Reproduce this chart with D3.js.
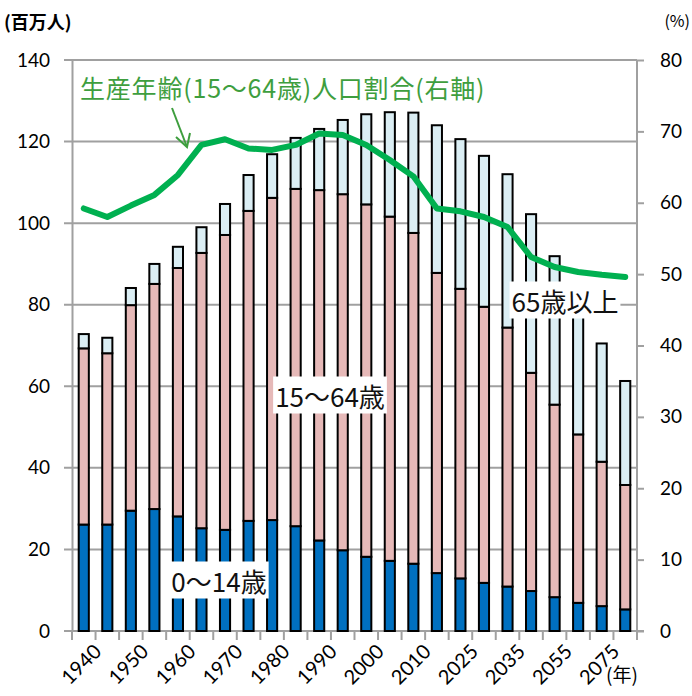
<!DOCTYPE html>
<html lang="ja">
<head>
<meta charset="UTF-8">
<title>人口推移</title>
<script src="https://d3js.org/d3.v7.min.js"></script>
<style>
  body { margin: 0; background: #fff; }
  text { font-family: "Noto Sans CJK JP", Lato, sans-serif; }
  .num { font-family: Lato, "Noto Sans", sans-serif; }
</style>
</head>
<body>
<div id="chart"></div>
<script>
// 年（奇数番目は目盛ラベル非表示）
var years = ["1940","1945","1950","1955","1960","1965","1970","1975","1980","1985","1990","1995",
             "2000","2005","2010","2020","2025","2030","2035","2045","2055","2065","2075","2085"];
// 0～14歳（百万人）
var young = [26.1,26.1,29.5,29.9,28.1,25.2,24.8,27.0,27.2,25.7,22.2,19.8,
             18.2,17.2,16.5,14.2,12.9,11.8,10.9,9.8,8.3,6.9,6.1,5.3];
// 15～64歳（百万人）
var working = [43.2,42.0,50.4,55.2,60.9,67.5,72.3,76.0,79.0,82.7,85.9,87.3,
               86.4,84.4,81.1,73.6,71.0,67.7,63.5,53.5,47.2,41.3,35.4,30.5];
// 65歳以上（百万人）
var old = [3.5,3.8,4.2,4.9,5.2,6.3,7.6,8.8,10.7,12.5,15.0,18.2,
           22.1,25.6,29.5,36.2,36.7,37.0,37.6,38.9,36.4,33.3,29.0,25.5];
// 生産年齢人口割合（％、右軸）
var ratio = [59.2,58.0,59.6,61.1,63.9,68.1,68.9,67.6,67.4,68.1,69.7,69.5,
             68.1,66.0,63.7,59.2,58.8,58.0,56.6,52.4,51.0,50.3,49.9,49.6];
var leftTicks = [0,20,40,60,80,100,120,140];
var rightTicks = [0,10,20,30,40,50,60,70,80];

(function() {
var width = 692, height = 696;
var pl = 72, pr = 637, pt = 60, pb = 631;
var gridColor = "#a0a0a0";

var svg = d3.select("#chart").append("svg")
    .attr("width", width).attr("height", height);

var x = d3.scaleBand().domain(years).range([pl, pr]).paddingInner(0.57).paddingOuter(0.285);
var y = d3.scaleLinear().domain([0, 140]).range([pb, pt]);
var y2 = d3.scaleLinear().domain([0, 80]).range([pb, pt]);
var step = x.step();

// グリッド線
svg.append("g").selectAll("line").data(leftTicks).enter().append("line")
    .attr("x1", pl - 8).attr("x2", pr)
    .attr("y1", d => y(d)).attr("y2", d => y(d))
    .attr("stroke", gridColor).attr("stroke-width", 2);

// 左軸
var yAxis = d3.axisLeft(y).tickValues(leftTicks).tickSize(0).tickPadding(22);
var gy = svg.append("g").attr("transform", "translate(" + pl + ",0)").call(yAxis);
gy.select(".domain").attr("stroke", gridColor).attr("stroke-width", 2);
gy.selectAll("text").attr("class", "num").style("font-size", "19px").attr("fill", "#000");

// 右軸
var yAxis2 = d3.axisRight(y2).tickValues(rightTicks).tickSize(7).tickPadding(16);
var gy2 = svg.append("g").attr("transform", "translate(" + pr + ",0)").call(yAxis2);
gy2.select(".domain").attr("d", "M0," + pt + "V" + pb).attr("stroke", gridColor).attr("stroke-width", 2);
gy2.selectAll(".tick line").attr("stroke", gridColor).attr("stroke-width", 2);
gy2.selectAll("text").attr("class", "num").style("font-size", "19px").attr("fill", "#000");

// 下軸（区切り目盛）
var xg = svg.append("g");
xg.append("line").attr("x1", pl - 8).attr("x2", pr + 7)
    .attr("y1", pb).attr("y2", pb).attr("stroke", gridColor).attr("stroke-width", 2);
xg.selectAll("line.tk").data(d3.range(years.length + 1)).enter().append("line")
    .attr("class", "tk")
    .attr("x1", i => pl + i * step).attr("x2", i => pl + i * step)
    .attr("y1", pb).attr("y2", pb + 9)
    .attr("stroke", gridColor).attr("stroke-width", 2);
xg.selectAll("text").data(years.filter((d, i) => i % 2 === 0)).enter().append("text")
    .attr("class", "num")
    .attr("transform", d => "translate(" + (x(d) + x.bandwidth() / 2 + 9) + "," + (pb + 12) + ") rotate(-45)")
    .attr("text-anchor", "end").attr("dy", "0.7em")
    .style("font-size", "20px").text(d => d);

// 積み上げ棒
var rows = years.map((d, i) => ({ year: d, young: young[i], working: working[i], old: old[i] }));
var stack = d3.stack().keys(["young", "working", "old"])(rows);
var colors = { young: "#0070c0", working: "#e6b9b8", old: "#dbeef4" };

svg.append("g").selectAll("g").data(stack).enter().append("g")
    .attr("fill", d => colors[d.key])
    .selectAll("rect").data(d => d).enter().append("rect")
    .attr("x", d => x(d.data.year))
    .attr("width", x.bandwidth())
    .attr("y", d => y(d[1]))
    .attr("height", d => y(d[0]) - y(d[1]))
    .attr("stroke", "#000").attr("stroke-width", 2);

// 生産年齢人口割合の線
var line = d3.line()
    .x((d, i) => x(years[i]) + x.bandwidth() / 2)
    .y(d => y2(d));
svg.append("path").datum(ratio)
    .attr("d", line).attr("fill", "none")
    .attr("stroke", "#00b050").attr("stroke-width", 6)
    .attr("stroke-linejoin", "round").attr("stroke-linecap", "round");

// ラベル（白背景）
function boxLabel(txt, cx, cy, size) {
    var t = svg.append("text").attr("x", cx).attr("y", cy)
        .attr("text-anchor", "middle").attr("dominant-baseline", "central")
        .style("font-size", size + "px").attr("fill", "#111").text(txt);
    var b = t.node().getBBox();
    svg.insert("rect", function() { return t.node(); })
        .attr("x", b.x - 2).attr("y", b.y).attr("width", b.width + 4).attr("height", b.height)
        .attr("fill", "#fff");
}
boxLabel("15～64歳", 330, 395, 26);
boxLabel("0～14歳", 219, 580, 26);
boxLabel("65歳以上", 565, 300, 26);

// 注記と矢印
svg.append("text").attr("x", 80).attr("y", 98)
    .style("font-size", "25px").style("letter-spacing", "0.8px").attr("fill", "#3e9e3e")
    .text("生産年齢(15～64歳)人口割合(右軸)");
svg.append("line").attr("x1", 172).attr("y1", 108).attr("x2", 187).attr("y2", 147)
    .attr("stroke", "#3e9e3e").attr("stroke-width", 2);
svg.append("path").attr("d", "M176,137 L187,147 L190,133")
    .attr("fill", "none").attr("stroke", "#3e9e3e").attr("stroke-width", 2);

// 単位
svg.append("text").attr("x", 4).attr("y", 29).style("font-size", "18px")
    .style("font-weight", "bold").text("(百万人)");
svg.append("text").attr("x", 690).attr("y", 27).attr("text-anchor", "end")
    .style("font-size", "16px").text("(%)");
svg.append("text").attr("x", 606).attr("y", 682).style("font-size", "19px").text("(年)");
})();
</script>
</body>
</html>
